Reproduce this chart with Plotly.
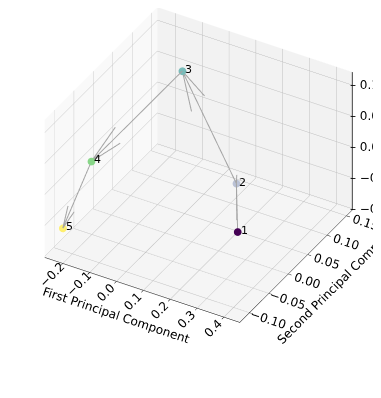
import numpy as np
import plotly.graph_objects as go
from plotly.colors import sample_colorscale, hex_to_rgb, unlabel_rgb

# ---- data ----
labels = ["1", "2", "3", "4", "5"]
pc1 = [0.418, 0.075, -0.041, -0.160, -0.226]
pc2 = [-0.102, 0.132, 0.073, -0.079, -0.107]
pc3 = [0.024, -0.094, 0.108, 0.040, -0.060]

x_ticks = [-0.2, -0.1, 0.0, 0.1, 0.2, 0.3, 0.4]
y_ticks = [-0.10, -0.05, 0.00, 0.05, 0.10, 0.15]
z_ticks = [-0.10, -0.05, 0.00, 0.05, 0.10]
z_tick_text = ["\u22120.10", "\u22120.05", "0.00", "0.05", "0.10"]
x_range = [-0.267, 0.459]
y_range = [-0.125, 0.165]
z_range = [-0.102, 0.121]

# ---- styles ----
depth_alpha = [1.0, 0.35, 0.61, 0.75, 0.66]   # matplotlib-like depth shading
arrow_color = "rgb(165,165,165)"
font_family = "DejaVu Sans"
box_scale = 1.23

base = sample_colorscale("Viridis", list(np.linspace(0, 1, len(labels))))
marker_colors = []
for c, a in zip(base, depth_alpha):
    r, g, b = unlabel_rgb(c) if c.startswith("rgb") else hex_to_rgb(c)
    marker_colors.append("rgb(%d,%d,%d)" % tuple(round(a * v + (1 - a) * 255) for v in (r, g, b)))

# ---- arrows between consecutive points (matplotlib quiver geometry) ----
P = np.column_stack([pc1, pc2, pc3]).astype(float)
XYZ = P[:-1]
UVW = P[1:] - P[:-1]
tips = XYZ + UVW


def calc_arrows(UVW):
    x = UVW[:, 0]
    y = UVW[:, 1]
    norm = np.linalg.norm(UVW[:, :2], axis=1)
    x_p = np.divide(y, norm, where=norm != 0, out=np.zeros_like(x))
    y_p = np.divide(-x, norm, where=norm != 0, out=np.ones_like(x))
    ang = np.radians(15)
    c, s = np.cos(ang), np.sin(ang)
    r13 = y_p * s
    r32 = x_p * s
    r12 = x_p * y_p * (1 - c)
    Rpos = np.array([[c + x_p ** 2 * (1 - c), r12, r13],
                     [r12, c + y_p ** 2 * (1 - c), -r32],
                     [-r13, r32, np.full_like(x_p, c)]])
    Rneg = Rpos.copy()
    Rneg[[0, 1, 2, 2], [2, 2, 0, 1]] *= -1
    pos = np.einsum("ij...,...j->...i", Rpos, UVW)
    neg = np.einsum("ij...,...j->...i", Rneg, UVW)
    return np.stack([pos, neg], axis=1)


head_dirs = calc_arrows(UVW)
lx, ly, lz = [], [], []
for i in range(len(XYZ)):
    segs = [(XYZ[i], tips[i]),
            (tips[i], tips[i] - 0.3 * head_dirs[i, 0]),
            (tips[i], tips[i] - 0.3 * head_dirs[i, 1])]
    for a, b in segs:
        lx += [a[0], b[0], None]
        ly += [a[1], b[1], None]
        lz += [a[2], b[2], None]

fig = go.Figure()
fig.add_trace(go.Scatter3d(
    x=lx, y=ly, z=lz, mode="lines",
    line=dict(color=arrow_color, width=2),
    hoverinfo="skip", showlegend=False))
fig.add_trace(go.Scatter3d(
    x=pc1, y=pc2, z=pc3, mode="markers",
    marker=dict(size=4.5, color=marker_colors, line=dict(width=0)),
    showlegend=False))
# z axis drawn on the right-hand back edge, as in the reference
fig.add_trace(go.Scatter3d(
    x=[x_range[1], x_range[1]], y=[y_range[1], y_range[1]], z=z_range,
    mode="lines", line=dict(color="black", width=1.5),
    hoverinfo="skip", showlegend=False))

annotations = [dict(x=xv, y=yv, z=zv, text=t, showarrow=False,
                    xanchor="left", yanchor="bottom", xshift=1, yshift=-7,
                    font=dict(family=font_family, size=11, color="black"))
               for xv, yv, zv, t in zip(pc1, pc2, pc3, labels)]
annotations += [dict(x=x_range[1], y=y_range[1], z=zv, text="\u2013 " + t,
                     showarrow=False, xanchor="left", yanchor="middle", xshift=-4,
                     font=dict(family=font_family, size=12, color="black"))
                for zv, t in zip(z_ticks, z_tick_text)]


def axis(title, rng, ticks, fmt, bg, show=True):
    return dict(
        title=dict(text=title, font=dict(family=font_family, size=12, color="black")),
        range=rng, tickvals=ticks, tickformat=fmt, autorange=False,
        showbackground=True, backgroundcolor=bg,
        gridcolor="#bfbfbf", gridwidth=1,
        showline=show, linecolor="black", linewidth=1,
        ticks="outside" if show else "", tickcolor="black", ticklen=4,
        showticklabels=show,
        zeroline=False, showspikes=False,
        tickfont=dict(family=font_family, size=12, color="black"))


fig.update_layout(
    width=381, height=398,
    margin=dict(l=0, r=0, t=0, b=0),
    paper_bgcolor="white",
    font=dict(family=font_family, size=12, color="black"),
    scene=dict(
        domain=dict(x=[0.0, 1.0], y=[0.08, 1.0]),
        xaxis=axis("First Principal Component", x_range, x_ticks, ".1f", "#f9f9f9"),
        yaxis=axis("Second Principal Component", y_range, y_ticks, ".2f", "#f2f2f2"),
        zaxis=axis("", z_range, z_ticks, ".2f", "#f5f5f5", show=False),
        aspectmode="manual",
        aspectratio=dict(x=box_scale, y=box_scale, z=0.75 * box_scale),
        camera=dict(
            eye=dict(x=0.68, y=-1.178, z=0.785),
            up=dict(x=0, y=0, z=1),
            center=dict(x=0.036, y=-0.063, z=-0.124),
            projection=dict(type="orthographic")),
        annotations=annotations,
    ),
)

fig.write_html("out.html")
